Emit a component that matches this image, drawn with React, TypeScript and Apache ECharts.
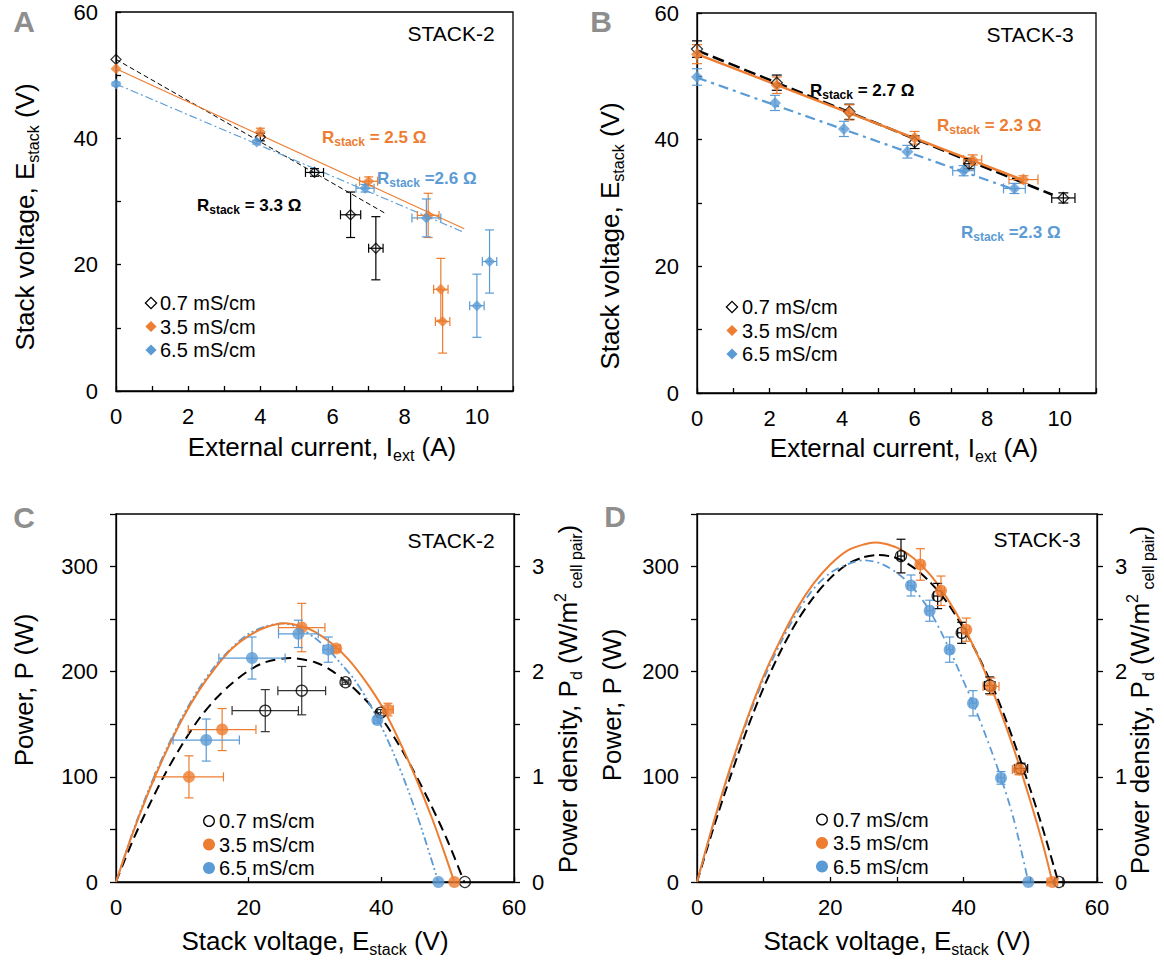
import React, { useEffect, useRef } from "react";
import * as echarts from "echarts";

// ---------------- data ----------------
// point rows: [x, y, xError, yError]

// Panel A – STACK-2, E_stack vs I_ext
const a07Points = [
  [0, 52.5, 0, 0],
  [4.0, 40.2, 0, 0.6],
  [5.5, 34.6, 0.25, 0.6],
  [6.5, 27.9, 0.28, 3.6],
  [7.2, 22.6, 0.2, 5.0],
];
const a35Points = [
  [0, 51.0, 0, 0],
  [4.0, 41.0, 0, 0.6],
  [7.0, 33.2, 0.25, 0.7],
  [8.65, 27.8, 0.3, 3.5],
  [9.0, 16.1, 0.2, 4.9],
  [9.05, 11.0, 0.2, 5.0],
];
const a65Points = [
  [0, 48.6, 0, 0.3],
  [3.9, 39.4, 0, 0.3],
  [6.9, 32.1, 0.25, 0.6],
  [8.6, 27.4, 0.4, 3.0],
  [10.0, 13.5, 0.2, 5.0],
  [10.35, 20.5, 0.2, 5.0],
];
const a07Fit = [[0, 52.5], [7.5, 28.0]];
const a35Fit = [[0, 51.0], [9.65, 25.7]];
const a65Fit = [[0, 48.6], [9.65, 25.1]];

// Panel B – STACK-3, E_stack vs I_ext
const b07Points = [
  [0, 54.3, 0, 1.3],
  [2.2, 49.0, 0, 1.2],
  [4.2, 44.4, 0, 1.2],
  [6.0, 39.6, 0, 1.0],
  [7.5, 36.2, 0.15, 0.8],
  [10.1, 30.8, 0.32, 0.8],
];
const b35Points = [
  [0, 53.5, 0, 1.5],
  [2.2, 48.6, 0, 1.3],
  [4.2, 44.3, 0, 1.2],
  [6.0, 40.3, 0, 1.0],
  [7.6, 36.8, 0.25, 0.8],
  [9.0, 33.7, 0.4, 0.6],
];
const b65Points = [
  [0, 49.9, 0, 1.3],
  [2.15, 45.8, 0, 1.2],
  [4.05, 41.7, 0, 1.2],
  [5.8, 38.1, 0, 1.0],
  [7.35, 35.1, 0.3, 0.8],
  [8.75, 32.3, 0.3, 0.8],
];
const b07Fit = [[0, 54.1], [9.8, 31.3]];
const b35Fit = [[0, 53.5], [9.0, 33.6]];
const b65Fit = [[0, 49.8], [8.8, 32.0]];

// Panel C – STACK-2, P vs E_stack
const c07Points = [
  [22.5, 163, 5, 20],
  [28, 182, 3.6, 23],
  [34.6, 190, 0.5, 2],
  [39.9, 161, 0.5, 3],
  [52.6, 0, 0, 0],
];
const c35Points = [
  [11, 100, 5.2, 20],
  [16, 145, 5.1, 20],
  [28, 242, 3.5, 23],
  [33.2, 222, 0.6, 3],
  [41, 164, 0.8, 6],
  [51, 0, 0, 0],
];
const c65Points = [
  [13.6, 135, 5, 20],
  [20.5, 213, 5, 20],
  [27.5, 236, 3, 13],
  [32, 221, 0.8, 12],
  [39.4, 154, 0.5, 3],
  [48.6, 0, 0, 0],
];
const c07Curve = [[0, 0], [2.5, 39], [5, 73], [7.5, 104], [10, 131], [12.5, 155], [15, 174], [17.5, 189], [20, 201], [22.5, 209], [26.3, 213], [30, 209], [32.5, 201], [35, 189], [37.5, 174], [40, 156], [42.5, 132], [45, 104], [47.5, 73], [50, 39], [52.5, 0]];
const c35Curve = [[0, 0], [2.5, 46], [5, 87], [7.5, 123], [10, 155], [12.5, 182], [15, 204], [17.5, 222], [20, 234], [22.5, 242], [25.5, 246], [28, 243], [30, 238], [32.5, 227], [35, 212], [37.5, 192], [40, 168], [42.5, 137], [45, 102], [47.5, 63], [49.5, 28], [51, 0]];
const c65Curve = [[0, 0], [2.5, 47], [5, 89], [7.5, 125], [10, 157], [12.5, 184], [15, 206], [17.5, 223], [20, 236], [22.5, 243], [25, 246], [27.5, 242], [30, 232], [32, 221], [34, 207], [36, 192], [38, 172], [40, 148], [42, 120], [44, 88], [46, 52], [48.6, 0]];

// Panel D – STACK-3, P vs E_stack
const d07Points = [
  [30.6, 310, 0.5, 16],
  [36.1, 272, 0.6, 12],
  [39.7, 237, 0.6, 10],
  [43.9, 187, 0.8, 8],
  [48.6, 108, 1.0, 5],
  [54.3, 0, 0.6, 0],
];
const d35Points = [
  [33.5, 302, 0.5, 15],
  [36.6, 277, 0.5, 14],
  [40.4, 240, 0.5, 11],
  [44.1, 186, 1.2, 8],
  [48.3, 107, 1.0, 5],
  [53.3, 0, 0.8, 0],
];
const d65Points = [
  [32.1, 282, 0.5, 10],
  [34.9, 258, 0.5, 10],
  [37.9, 221, 0.5, 12],
  [41.4, 170, 0.5, 12],
  [45.6, 99, 0.5, 6],
  [49.7, 0, 0, 0],
];
const d07Curve = [[0, 0], [2.5, 52], [5, 100], [7.5, 145], [10, 185], [12.5, 219], [15, 248], [17.5, 271], [20, 289], [22.5, 302], [25, 309], [27.2, 311], [30, 308], [32.5, 299], [35, 285], [37.5, 266], [40, 241], [42.5, 211], [45, 176], [47.5, 134], [50, 88], [52, 48], [54.2, 0]];
const d35Curve = [[0, 0], [2.5, 57], [5, 109], [7.5, 155], [10, 196], [12.5, 230], [15, 260], [17.5, 284], [20, 302], [22.5, 315], [25, 321], [26.7, 323], [28, 322], [30, 318], [32.5, 308], [35, 292], [37.5, 270], [40, 243], [42.5, 210], [45, 171], [47.5, 127], [50, 77], [52, 33], [53.3, 0]];
const d65Curve = [[0, 0], [2.5, 56], [5, 107], [7.5, 153], [10, 193], [12.5, 227], [15, 256], [17.5, 279], [20, 294], [22.5, 302], [25, 306], [27.5, 303], [30, 294], [32.1, 282], [34.9, 258], [37.9, 221], [39.5, 198], [41.4, 170], [43.5, 136], [45.6, 99], [47.5, 60], [49.7, 0]];

const legendLabels = ["0.7 mS/cm", "3.5 mS/cm", "6.5 mS/cm"];
const panelLetters = ["A", "B", "C", "D"];
const stackNames = ["STACK-2", "STACK-3", "STACK-2", "STACK-3"];
const rLabelsA = [" = 3.3 Ω", " = 2.5 Ω", " =2.6 Ω"];
const rLabelsB = [" = 2.7 Ω", " = 2.3 Ω", " =2.3 Ω"];

// ---------------- styling ----------------
const F = "'Liberation Sans', Arial, Helvetica, sans-serif";
const BLACK = "#000000";
const ORANGE = "#ED7D31";
const BLUE = "#5B9BD5";
const COLORS = [BLACK, ORANGE, BLUE];

function scatterSeries(data: number[][], xi: number, yi: number, color: string, symbol: string, open: boolean, size: number) {
  return {
    type: "scatter",
    xAxisIndex: xi,
    yAxisIndex: yi,
    data: data.map((d) => [d[0], d[1]]),
    symbol,
    symbolSize: size,
    silent: true,
    z: 6,
    itemStyle: open
      ? { color: "rgba(255,255,255,0)", borderColor: color, borderWidth: 1.3 }
      : { color, borderWidth: 0 },
  };
}

function errorSeries(data: number[][], xi: number, yi: number, color: string, cap: number) {
  return {
    type: "custom",
    xAxisIndex: xi,
    yAxisIndex: yi,
    silent: true,
    z: 5,
    data,
    encode: { x: 0, y: 1 },
    renderItem: (_p: any, api: any) => {
      const x = api.value(0);
      const y = api.value(1);
      const ex = api.value(2);
      const ey = api.value(3);
      const st = { stroke: color, lineWidth: 1.2, fill: "none" };
      const ch: any[] = [];
      if (ex > 0) {
        const l = api.coord([x - ex, y]);
        const r = api.coord([x + ex, y]);
        ch.push({ type: "line", shape: { x1: l[0], y1: l[1], x2: r[0], y2: r[1] }, style: st });
        ch.push({ type: "line", shape: { x1: l[0], y1: l[1] - cap, x2: l[0], y2: l[1] + cap }, style: st });
        ch.push({ type: "line", shape: { x1: r[0], y1: r[1] - cap, x2: r[0], y2: r[1] + cap }, style: st });
      }
      if (ey > 0) {
        const t = api.coord([x, y + ey]);
        const b = api.coord([x, y - ey]);
        ch.push({ type: "line", shape: { x1: t[0], y1: t[1], x2: b[0], y2: b[1] }, style: st });
        ch.push({ type: "line", shape: { x1: t[0] - cap, y1: t[1], x2: t[0] + cap, y2: t[1] }, style: st });
        ch.push({ type: "line", shape: { x1: b[0] - cap, y1: b[1], x2: b[0] + cap, y2: b[1] }, style: st });
      }
      return { type: "group", children: ch };
    },
  };
}

function lineSeries(data: number[][], xi: number, yi: number, color: string, width: number, type: any, smooth: any) {
  return {
    type: "line",
    xAxisIndex: xi,
    yAxisIndex: yi,
    data,
    smooth,
    symbol: "none",
    showSymbol: false,
    silent: true,
    z: 3,
    lineStyle: { color, width, type },
  };
}

const axisLineStyle = { color: BLACK, width: 1.3 };

function xAxis(gridIndex: number, max: number, interval: number, fmt: (v: number) => string) {
  return {
    type: "value",
    gridIndex,
    min: 0,
    max,
    interval,
    axisLine: { show: true, onZero: false, lineStyle: axisLineStyle },
    axisTick: { show: true, inside: true, length: 5, lineStyle: axisLineStyle },
    axisLabel: { margin: 14, color: BLACK, fontFamily: F, fontSize: 22, formatter: fmt },
    splitLine: { show: false },
  };
}

function yAxis(gridIndex: number, max: number, interval: number, fmt: (v: number) => string, inside: boolean, position: string) {
  return {
    type: "value",
    gridIndex,
    position,
    min: 0,
    max,
    interval,
    axisLine: { show: true, onZero: false, lineStyle: axisLineStyle },
    axisTick: { show: true, inside, length: inside ? 5 : 6, lineStyle: axisLineStyle },
    axisLabel: { margin: 18, color: BLACK, fontFamily: F, fontSize: 22, formatter: fmt },
    splitLine: { show: false },
  };
}

const titleRich = {
  m: { fontFamily: F, fontSize: 26, lineHeight: 32, fill: BLACK, color: BLACK },
  s: { fontFamily: F, fontSize: 16, lineHeight: 16, verticalAlign: "bottom", fill: BLACK, color: BLACK },
  p: { fontFamily: F, fontSize: 16, lineHeight: 16, verticalAlign: "top", fill: BLACK, color: BLACK },
};

function title(x: number, y: number, text: string, rotated: boolean) {
  return {
    type: "text",
    x,
    y,
    rotation: rotated ? Math.PI / 2 : 0,
    silent: true,
    style: { text, rich: titleRich, align: "center", verticalAlign: "middle", textAlign: "center", textVerticalAlign: "middle" },
  };
}

function plainText(x: number, y: number, text: string, size: number, color: string, weight: string, align: string) {
  return {
    type: "text",
    x,
    y,
    silent: true,
    style: {
      text,
      fill: color,
      fontFamily: F,
      fontSize: size,
      fontWeight: weight,
      align,
      verticalAlign: "middle",
      textAlign: align,
      textVerticalAlign: "middle",
    },
  };
}

function rLabel(x: number, y: number, rest: string, color: string) {
  return {
    type: "text",
    x,
    y,
    silent: true,
    style: {
      text: `{r|R}{s|stack}{r|${rest}}`,
      rich: {
        r: { fontFamily: F, fontSize: 17, fontWeight: "bold", lineHeight: 22, fill: color, color },
        s: { fontFamily: F, fontSize: 12, fontWeight: "bold", lineHeight: 12, verticalAlign: "bottom", fill: color, color },
      },
      align: "left",
      verticalAlign: "middle",
      textAlign: "left",
      textVerticalAlign: "middle",
    },
  };
}

function legend(mx: number, tx: number, rows: number[], shape: string) {
  const els: any[] = [];
  rows.forEach((ry, i) => {
    const c = COLORS[i];
    const open = i === 0;
    const style = open ? { fill: "none", stroke: c, lineWidth: 1.3 } : { fill: c, stroke: "none" };
    if (shape === "diamond") {
      const h = 5.6;
      els.push({ type: "polygon", silent: true, shape: { points: [[mx, ry - h], [mx + h, ry], [mx, ry + h], [mx - h, ry]] }, style });
    } else {
      els.push({ type: "circle", silent: true, shape: { cx: mx, cy: ry, r: open ? 5.3 : 6 }, style });
    }
    els.push(plainText(tx, ry, legendLabels[i], 20, BLACK, "normal", "left"));
  });
  return els;
}

const evenUpTo10 = (v: number) => (v % 2 === 0 && v <= 10 ? String(v) : "");
const every20 = (v: number) => (v % 20 === 0 ? String(v) : "");
const every100 = (v: number) => (v % 100 === 0 && v <= 300 ? String(v) : "");
const integersTo3 = (v: number) => (Math.abs(v - Math.round(v)) < 1e-9 && v <= 3 ? String(Math.round(v)) : "");

function buildOption() {
  const gridBase = { show: true, borderColor: BLACK, borderWidth: 1.3, backgroundColor: "transparent", containLabel: false };
  const grid = [
    { ...gridBase, left: 116, top: 12, width: 397, height: 379 },
    { ...gridBase, left: 697, top: 13, width: 399, height: 380 },
    { ...gridBase, left: 116, top: 514, width: 398, height: 368 },
    { ...gridBase, left: 697, top: 514, width: 400, height: 368 },
  ];
  const xAxes = [
    xAxis(0, 11, 1, evenUpTo10),
    xAxis(1, 11, 1, evenUpTo10),
    xAxis(2, 60, 20, every20),
    xAxis(3, 60, 10, every20),
  ];
  const yAxes = [
    yAxis(0, 60, 10, every20, true, "left"),
    yAxis(1, 60, 10, every20, true, "left"),
    yAxis(2, 350, 50, every100, false, "left"),
    yAxis(2, 3.5, 0.5, integersTo3, false, "right"),
    yAxis(3, 350, 50, every100, false, "left"),
    yAxis(3, 3.5, 0.5, integersTo3, false, "right"),
  ];

  const sm = 0.3;
  const series: any[] = [];
  // Panel A
  series.push(lineSeries(a07Fit, 0, 0, BLACK, 1, [5, 3], false));
  series.push(lineSeries(a35Fit, 0, 0, ORANGE, 1.1, "solid", false));
  series.push(lineSeries(a65Fit, 0, 0, BLUE, 1.1, [8, 3, 2, 3], false));
  series.push(errorSeries(a07Points, 0, 0, BLACK, 4.5));
  series.push(errorSeries(a35Points, 0, 0, ORANGE, 4.5));
  series.push(errorSeries(a65Points, 0, 0, BLUE, 4.5));
  series.push(scatterSeries(a07Points, 0, 0, BLACK, "diamond", true, 10));
  series.push(scatterSeries(a35Points, 0, 0, ORANGE, "diamond", false, 11));
  series.push(scatterSeries(a65Points, 0, 0, BLUE, "diamond", false, 11));
  // Panel B
  series.push(lineSeries(b07Fit, 1, 1, BLACK, 2.5, [12, 5], false));
  series.push(lineSeries(b35Fit, 1, 1, ORANGE, 2.5, "solid", false));
  series.push(lineSeries(b65Fit, 1, 1, BLUE, 2.2, [10, 5, 3, 5], false));
  series.push(errorSeries(b07Points, 1, 1, BLACK, 5));
  series.push(errorSeries(b35Points, 1, 1, ORANGE, 5));
  series.push(errorSeries(b65Points, 1, 1, BLUE, 5));
  series.push(scatterSeries(b07Points, 1, 1, BLACK, "diamond", true, 11));
  series.push(scatterSeries(b35Points, 1, 1, ORANGE, "diamond", false, 12));
  series.push(scatterSeries(b65Points, 1, 1, BLUE, "diamond", false, 12));
  // Panel C
  series.push(lineSeries(c07Curve, 2, 2, BLACK, 2, [10, 6], sm));
  series.push(lineSeries(c65Curve, 2, 2, BLUE, 1.8, [8, 3, 2, 3, 2, 3], sm));
  series.push(lineSeries(c35Curve, 2, 2, ORANGE, 2, "solid", sm));
  series.push(errorSeries(c07Points, 2, 2, "#333333", 4.5));
  series.push(errorSeries(c35Points, 2, 2, ORANGE, 4.5));
  series.push(errorSeries(c65Points, 2, 2, BLUE, 4.5));
  series.push(scatterSeries(c07Points, 2, 2, BLACK, "circle", true, 11));
  series.push(scatterSeries(c35Points, 2, 2, ORANGE, "circle", false, 12));
  series.push(scatterSeries(c65Points, 2, 2, BLUE, "circle", false, 12));
  // Panel D
  series.push(lineSeries(d07Curve, 3, 4, BLACK, 2, [10, 5], sm));
  series.push(lineSeries(d65Curve, 3, 4, BLUE, 1.8, [8, 4, 2, 4], sm));
  series.push(lineSeries(d35Curve, 3, 4, ORANGE, 2, "solid", sm));
  series.push(errorSeries(d07Points, 3, 4, BLACK, 4.5));
  series.push(errorSeries(d35Points, 3, 4, ORANGE, 4.5));
  series.push(errorSeries(d65Points, 3, 4, BLUE, 4.5));
  series.push(scatterSeries(d07Points, 3, 4, BLACK, "circle", true, 11));
  series.push(scatterSeries(d35Points, 3, 4, ORANGE, "circle", false, 12));
  series.push(scatterSeries(d65Points, 3, 4, BLUE, "circle", false, 12));

  const ivX = "{m|External current, I}{s|ext}{m| (A)}";
  const ivY = "{m|Stack voltage, E}{s|stack}{m| (V)}";
  const pY = "{m|Power, P (W)}";
  const pdY = "{m|Power density, P}{s|d}{m| (W/m}{p|2}{s| cell pair}{m|)}";

  const graphic: any[] = [
    title(322, 447, ivX, false),
    title(904, 448, ivX, false),
    title(25, 217, ivY, true),
    title(610, 236, ivY, true),
    title(315, 941, ivY, false),
    title(897, 941, ivY, false),
    title(24, 690, pY, true),
    title(612, 705, pY, true),
    title(568, 699, pdY, true),
    title(1140, 700, pdY, true),
    plainText(24, 21, panelLetters[0], 30, "#8e8e8e", "bold", "center"),
    plainText(601, 21, panelLetters[1], 30, "#8e8e8e", "bold", "center"),
    plainText(24, 517, panelLetters[2], 30, "#8e8e8e", "bold", "center"),
    plainText(615, 516, panelLetters[3], 30, "#8e8e8e", "bold", "center"),
    plainText(451, 33, stackNames[0], 21, BLACK, "normal", "center"),
    plainText(1030, 34, stackNames[1], 21, BLACK, "normal", "center"),
    plainText(451, 540, stackNames[2], 21, BLACK, "normal", "center"),
    plainText(1037, 539, stackNames[3], 21, BLACK, "normal", "center"),
    rLabel(197, 205, rLabelsA[0], BLACK),
    rLabel(322, 137, rLabelsA[1], ORANGE),
    rLabel(377, 178, rLabelsA[2], BLUE),
    rLabel(810, 90, rLabelsB[0], BLACK),
    rLabel(937, 125, rLabelsB[1], ORANGE),
    rLabel(961, 232, rLabelsB[2], BLUE),
    ...legend(151, 160, [303, 326.5, 350], "diamond"),
    ...legend(732, 742, [307, 330.5, 354], "diamond"),
    ...legend(209, 219, [821, 844.5, 868], "circle"),
    ...legend(822, 833, [819.5, 843, 866.5], "circle"),
  ];

  return {
    animation: false,
    backgroundColor: "#ffffff",
    textStyle: { fontFamily: F },
    grid,
    xAxis: xAxes,
    yAxis: yAxes,
    series,
    graphic,
  };
}

export default function App() {
  const ref = useRef<HTMLDivElement>(null);
  useEffect(() => {
    if (!ref.current) return;
    const chart = echarts.init(ref.current, undefined, { renderer: "svg" });
    chart.setOption(buildOption() as any);
    return () => chart.dispose();
  }, []);
  return (
    <div
      ref={ref}
      style={{ position: "absolute", left: 0, top: 0, width: 1164, height: 963, background: "#fff" }}
    />
  );
}
